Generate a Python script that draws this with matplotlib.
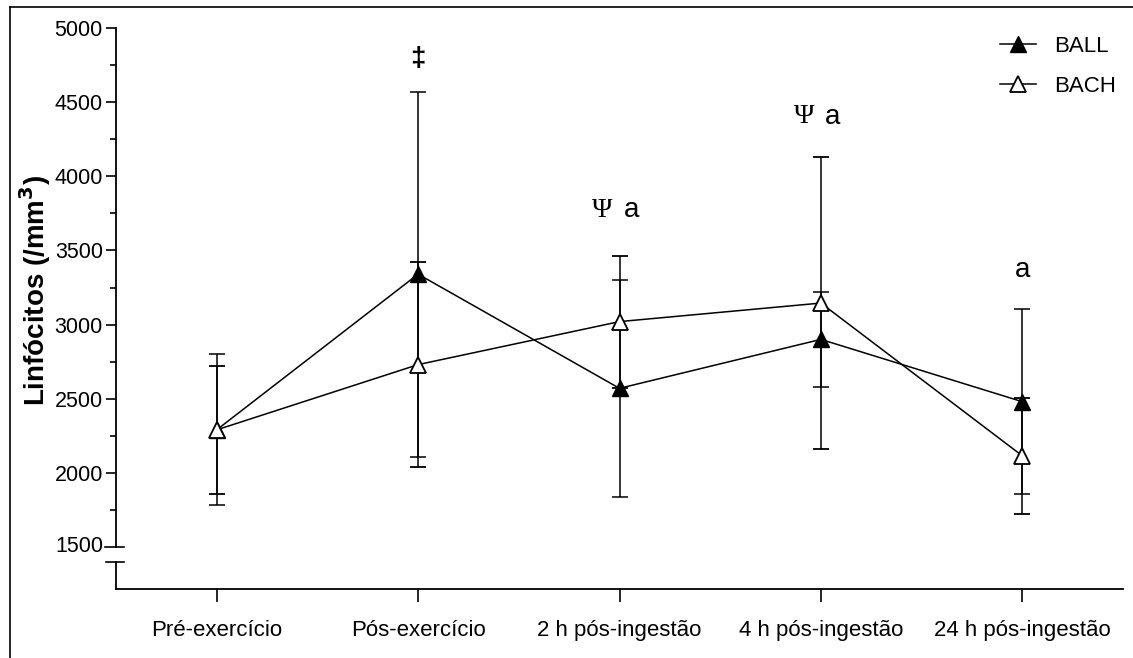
import matplotlib
matplotlib.use("Agg")
import matplotlib.pyplot as plt
from matplotlib.lines import Line2D

plt.rcParams['font.family'] = ['Liberation Sans', 'DejaVu Sans']

categories = ["Pré-exercício", "Pós-exercício", "2 h pós-ingestão", "4 h pós-ingestão", "24 h pós-ingestão"]
ball_mean = [2290, 3340, 2570, 2900, 2480]
ball_err = [510, 1230, 730, 320, 625]
bach_mean = [2290, 2730, 3020, 3145, 2115]
bach_err = [430, 690, 445, 985, 390]
y_ticks = [1500, 2000, 2500, 3000, 3500, 4000, 4500, 5000]
annot_pos = [1, 2, 3, 4]
annot_y = [4790, 3770, 4400, 3370]
annot_sym = ["‡", "Ψ", "Ψ", ""]
annot_txt = ["", "a", "a", "a"]

W, H = 1133, 658
fig = plt.figure(figsize=(W / 100, H / 100), dpi=100)

# outer frame (left and top lines)
fig.add_artist(Line2D([10 / W, 10 / W], [0, 1 - 7 / H], transform=fig.transFigure, color='black', lw=1.2))
fig.add_artist(Line2D([10 / W, 1], [1 - 7 / H, 1 - 7 / H], transform=fig.transFigure, color='black', lw=1.2))

left = 116 / W
width = (1123 - 116) / W
ax = fig.add_axes([left, 1 - 547 / H, width, (547 - 28) / H])
axb = fig.add_axes([left, 1 - 589 / H, width, (589 - 562) / H])

x = list(range(len(categories)))
lw = 1.1
ax.errorbar(x, ball_mean, yerr=ball_err, color='black', lw=lw, elinewidth=lw, capsize=6, capthick=lw,
            marker='^', markersize=12, markerfacecolor='black', markeredgecolor='black', zorder=3, label='BALL')
ax.errorbar(x, bach_mean, yerr=bach_err, color='black', lw=lw, elinewidth=lw, capsize=6, capthick=lw,
            marker='^', markersize=12, markerfacecolor='white', markeredgecolor='black', markeredgewidth=1.3,
            zorder=4, label='BACH')

ax.set_xlim(-0.5, 4.5)
ax.set_ylim(1500, 5000)
for s in ['top', 'right', 'bottom']:
    ax.spines[s].set_visible(False)
ax.spines['left'].set_linewidth(1.3)
ax.set_xticks([])
ax.set_yticks(y_ticks[1:])
ax.set_yticks([v + 250 for v in y_ticks[:-1]], minor=True)
ax.tick_params(axis='y', which='major', direction='out', length=7.5, width=1.2, labelsize=15.5, pad=2)
ax.tick_params(axis='y', which='minor', direction='out', length=4.3, width=1.2)
# 1500 tick crossing the axis (break)
ytr = ax.get_yaxis_transform()
ax.plot([-0.0105, 0.0075], [1500, 1500], transform=ytr, color='black', lw=1.2, clip_on=False)
ax.text(-0.0125, 1500, "1500", transform=ytr, ha='right', va='center', fontsize=15.5)

ax.set_ylabel("Linfócitos (/mm$^\\mathbf{3}$)", fontsize=20, fontweight='bold')
ax.yaxis.set_label_coords(-0.0625, 0.5 - (290 - 287) / 519)

# lower segment of broken axis
axb.set_xlim(-0.5, 4.5)
axb.set_ylim(0, 1)
for s in ['top', 'right']:
    axb.spines[s].set_visible(False)
axb.spines['left'].set_linewidth(1.3)
axb.spines['bottom'].set_linewidth(1.3)
axb.set_yticks([])
axb.plot([-0.0095, 0.0075], [1, 1], transform=axb.get_yaxis_transform(), color='black', lw=1.2, clip_on=False)
axb.set_xticks(x)
axb.set_xticklabels(categories)
axb.tick_params(axis='x', direction='out', length=9, width=1.2, labelsize=16, pad=13)

# annotations
for p, yv, sym, t in zip(annot_pos, annot_y, annot_sym, annot_txt):
    if sym == "‡":
        ax.text(p, yv, sym, ha='center', va='center', fontsize=20, fontweight='bold')
    elif sym:
        ax.text(p - 0.085, yv, sym, ha='center', va='center', fontsize=20, family=['Liberation Serif', 'DejaVu Serif'])
        ax.text(p + 0.06, yv, t, ha='center', va='center', fontsize=20)
    else:
        ax.text(p, yv, t, ha='center', va='center', fontsize=20)

# legend
handles = [Line2D([], [], color='black', lw=lw, marker='^', markersize=11, markerfacecolor='black'),
           Line2D([], [], color='black', lw=lw, marker='^', markersize=11, markerfacecolor='white', markeredgewidth=1.3)]
fig.legend(handles, ['BALL', 'BACH'], loc='upper left', bbox_to_anchor=(1000 / W, 1 - 36 / H),
           frameon=False, fontsize=16, handlelength=1.6, handletextpad=0.85, labelspacing=0.85,
           borderaxespad=0, borderpad=0)

fig.savefig("out.png", dpi=100)
